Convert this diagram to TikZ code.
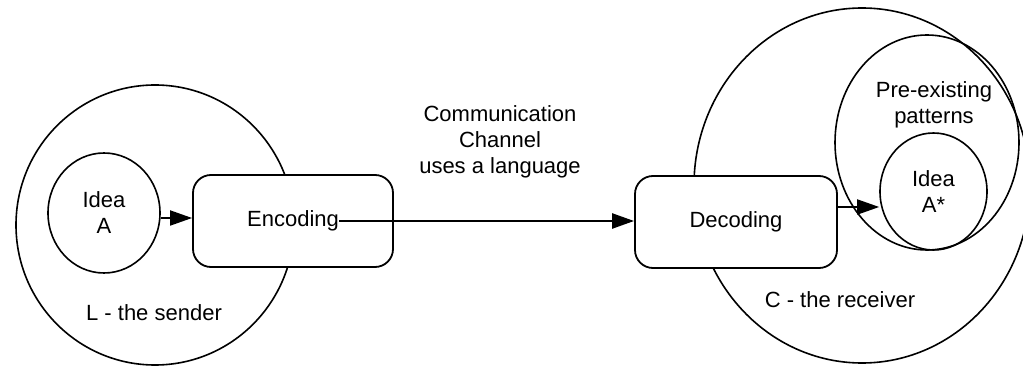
\documentclass[tikz,border=0pt]{standalone}
\usepackage{fontspec}
\setmainfont{Liberation Sans}
\usetikzlibrary{shapes.geometric,arrows.meta,calc}
\begin{document}
\begin{tikzpicture}[x=1pt,y=-1pt,
  every node/.style={font=\fontsize{22}{26}\selectfont, align=center},
  ring/.style={draw, ellipse, line width=1.6pt, inner sep=0pt},
  codebox/.style={draw, fill=white, rounded corners=18pt, line width=1.8pt,
    minimum width=200pt, minimum height=92pt, inner sep=0pt},
  flow/.style={-{Triangle[length=22pt,width=15pt]}, line width=1.8pt},
  plain/.style={inner sep=0pt}]
\useasboundingbox (0,0) rectangle (1023,366);

% sender side
\node[ring, minimum width=278pt, minimum height=280pt] (sender) at (155,225) {};
\node[ring, minimum width=112pt, minimum height=120pt] (ideaA) at (104,213) {Idea\\A};
\node[plain] (sendlbl) at (154,313) {L - the sender};

% receiver side
\node[ring, minimum width=336pt, minimum height=355pt] (receiver) at (862,185.5) {};
\node[ring, minimum width=184pt, minimum height=215pt] (patterns) at (927,142.5) {};
\node[plain] (patlbl) at (934,104.5) {Pre-existing\\patterns};
\node[ring, minimum width=107pt, minimum height=117pt] (ideaB) at (933.5,191.5) {Idea\\A*};
\node[plain] (recvlbl) at (840,300) {C - the receiver};

% coding boxes
\node[codebox] (enc) at (293,221) {};
\node[plain] (enctxt) at (293,221) {Encoding};
\node[codebox, minimum width=202pt] (dec) at (736,222) {Decoding};

% channel
\node[plain] (chan) at (500,142) {Communication\\Channel\\uses a language};

% connectors
\coordinate (a1) at ($(ideaA.east)+(0,5)$);
\draw[flow] (a1) -- (a1 -| enc.west);
\draw[flow, line width=2.4pt] (enctxt.east) -- (enctxt.east -| dec.west);
\coordinate (a3) at ($(dec.east)+(0,-15)$);
\draw[flow] (a3) -- (a3 -| ideaB.west);
\end{tikzpicture}
\end{document}
